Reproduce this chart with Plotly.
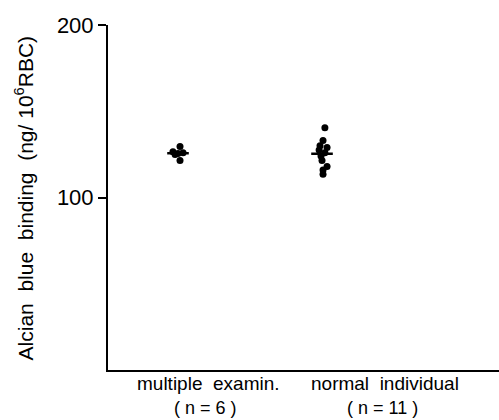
import numpy as np
import plotly.graph_objects as go

# ---- data ----
categories = ["multiple examin.", "normal individual"]
group_sizes = ["n = 6", "n = 11"]
multiple_values = [129.5, 126.5, 126.0, 125.5, 125.0, 121.5]
normal_values = [140.5, 133.0, 130.0, 129.0, 127.5, 126.0, 124.0, 121.5, 118.0, 116.0, 113.5]
# horizontal scatter (jitter) of the dots, in category units
multiple_jitter = [0.014, -0.035, 0.035, 0.0, -0.02, 0.014]
normal_jitter = [0.02, 0.007, -0.014, 0.035, -0.02, 0.02, -0.007, 0.0, 0.035, 0.007, 0.007]
y_ticks = [100, 200]

groups = [multiple_values, normal_values]
jitters = [multiple_jitter, normal_jitter]

fig = go.Figure()
for i, (vals, jit) in enumerate(zip(groups, jitters)):
    pos = i + 1
    fig.add_trace(go.Scatter(
        x=[pos + j for j in jit], y=vals, mode="markers",
        marker=dict(color="black", size=7, line=dict(width=0)),
        showlegend=False, hoverinfo="y"))
    m = float(np.mean(vals))
    fig.add_trace(go.Scatter(
        x=[pos - 0.075, pos + 0.075], y=[m, m], mode="lines",
        line=dict(color="black", width=2.5), showlegend=False, hoverinfo="skip"))

font = "Liberation Sans, Arial, sans-serif"

for i, (cat, n) in enumerate(zip(categories, group_sizes)):
    label_x = [1.21, 2.44][i]
    fig.add_annotation(
        x=label_x, xref="x", y=0, yref="paper", yanchor="middle", xanchor="center",
        yshift=-13, showarrow=False,
        text=cat.replace(" ", "\u00a0\u00a0"),
        font=dict(family=font, size=19, color="black"))
    fig.add_annotation(
        x=label_x - 0.02, xref="x", y=0, yref="paper", yanchor="middle", xanchor="center",
        yshift=-38, showarrow=False,
        text="(\u00a0" + n + "\u00a0)",
        font=dict(family=font, size=18, color="black"))

fig.add_annotation(
    x=-0.215, xref="paper", y=0.5, yref="paper", xanchor="center", yanchor="middle",
    textangle=-90, showarrow=False,
    text="Alcian\u00a0\u00a0blue\u00a0\u00a0binding\u00a0\u00a0(ng/\u00a010<sup>6</sup>RBC)",
    font=dict(family=font, size=21, color="black"))

fig.update_layout(
    width=499, height=420,
    margin=dict(l=108, r=0, t=25, b=50),
    paper_bgcolor="white", plot_bgcolor="white",
    xaxis=dict(range=[0.5139, 3.229], showline=True, linecolor="black", linewidth=2,
               showgrid=False, zeroline=False, showticklabels=False, ticks=""),
    yaxis=dict(range=[0, 200], showline=True, linecolor="black", linewidth=2,
               showgrid=False, zeroline=False, tickvals=y_ticks, ticks="outside",
               ticklen=8, tickwidth=1.5, tickcolor="black",
               tickfont=dict(family=font, size=22, color="black")),
)

fig.write_html("out.html", config={"displayModeBar": False},
               post_script="document.body.style.margin='0';")
